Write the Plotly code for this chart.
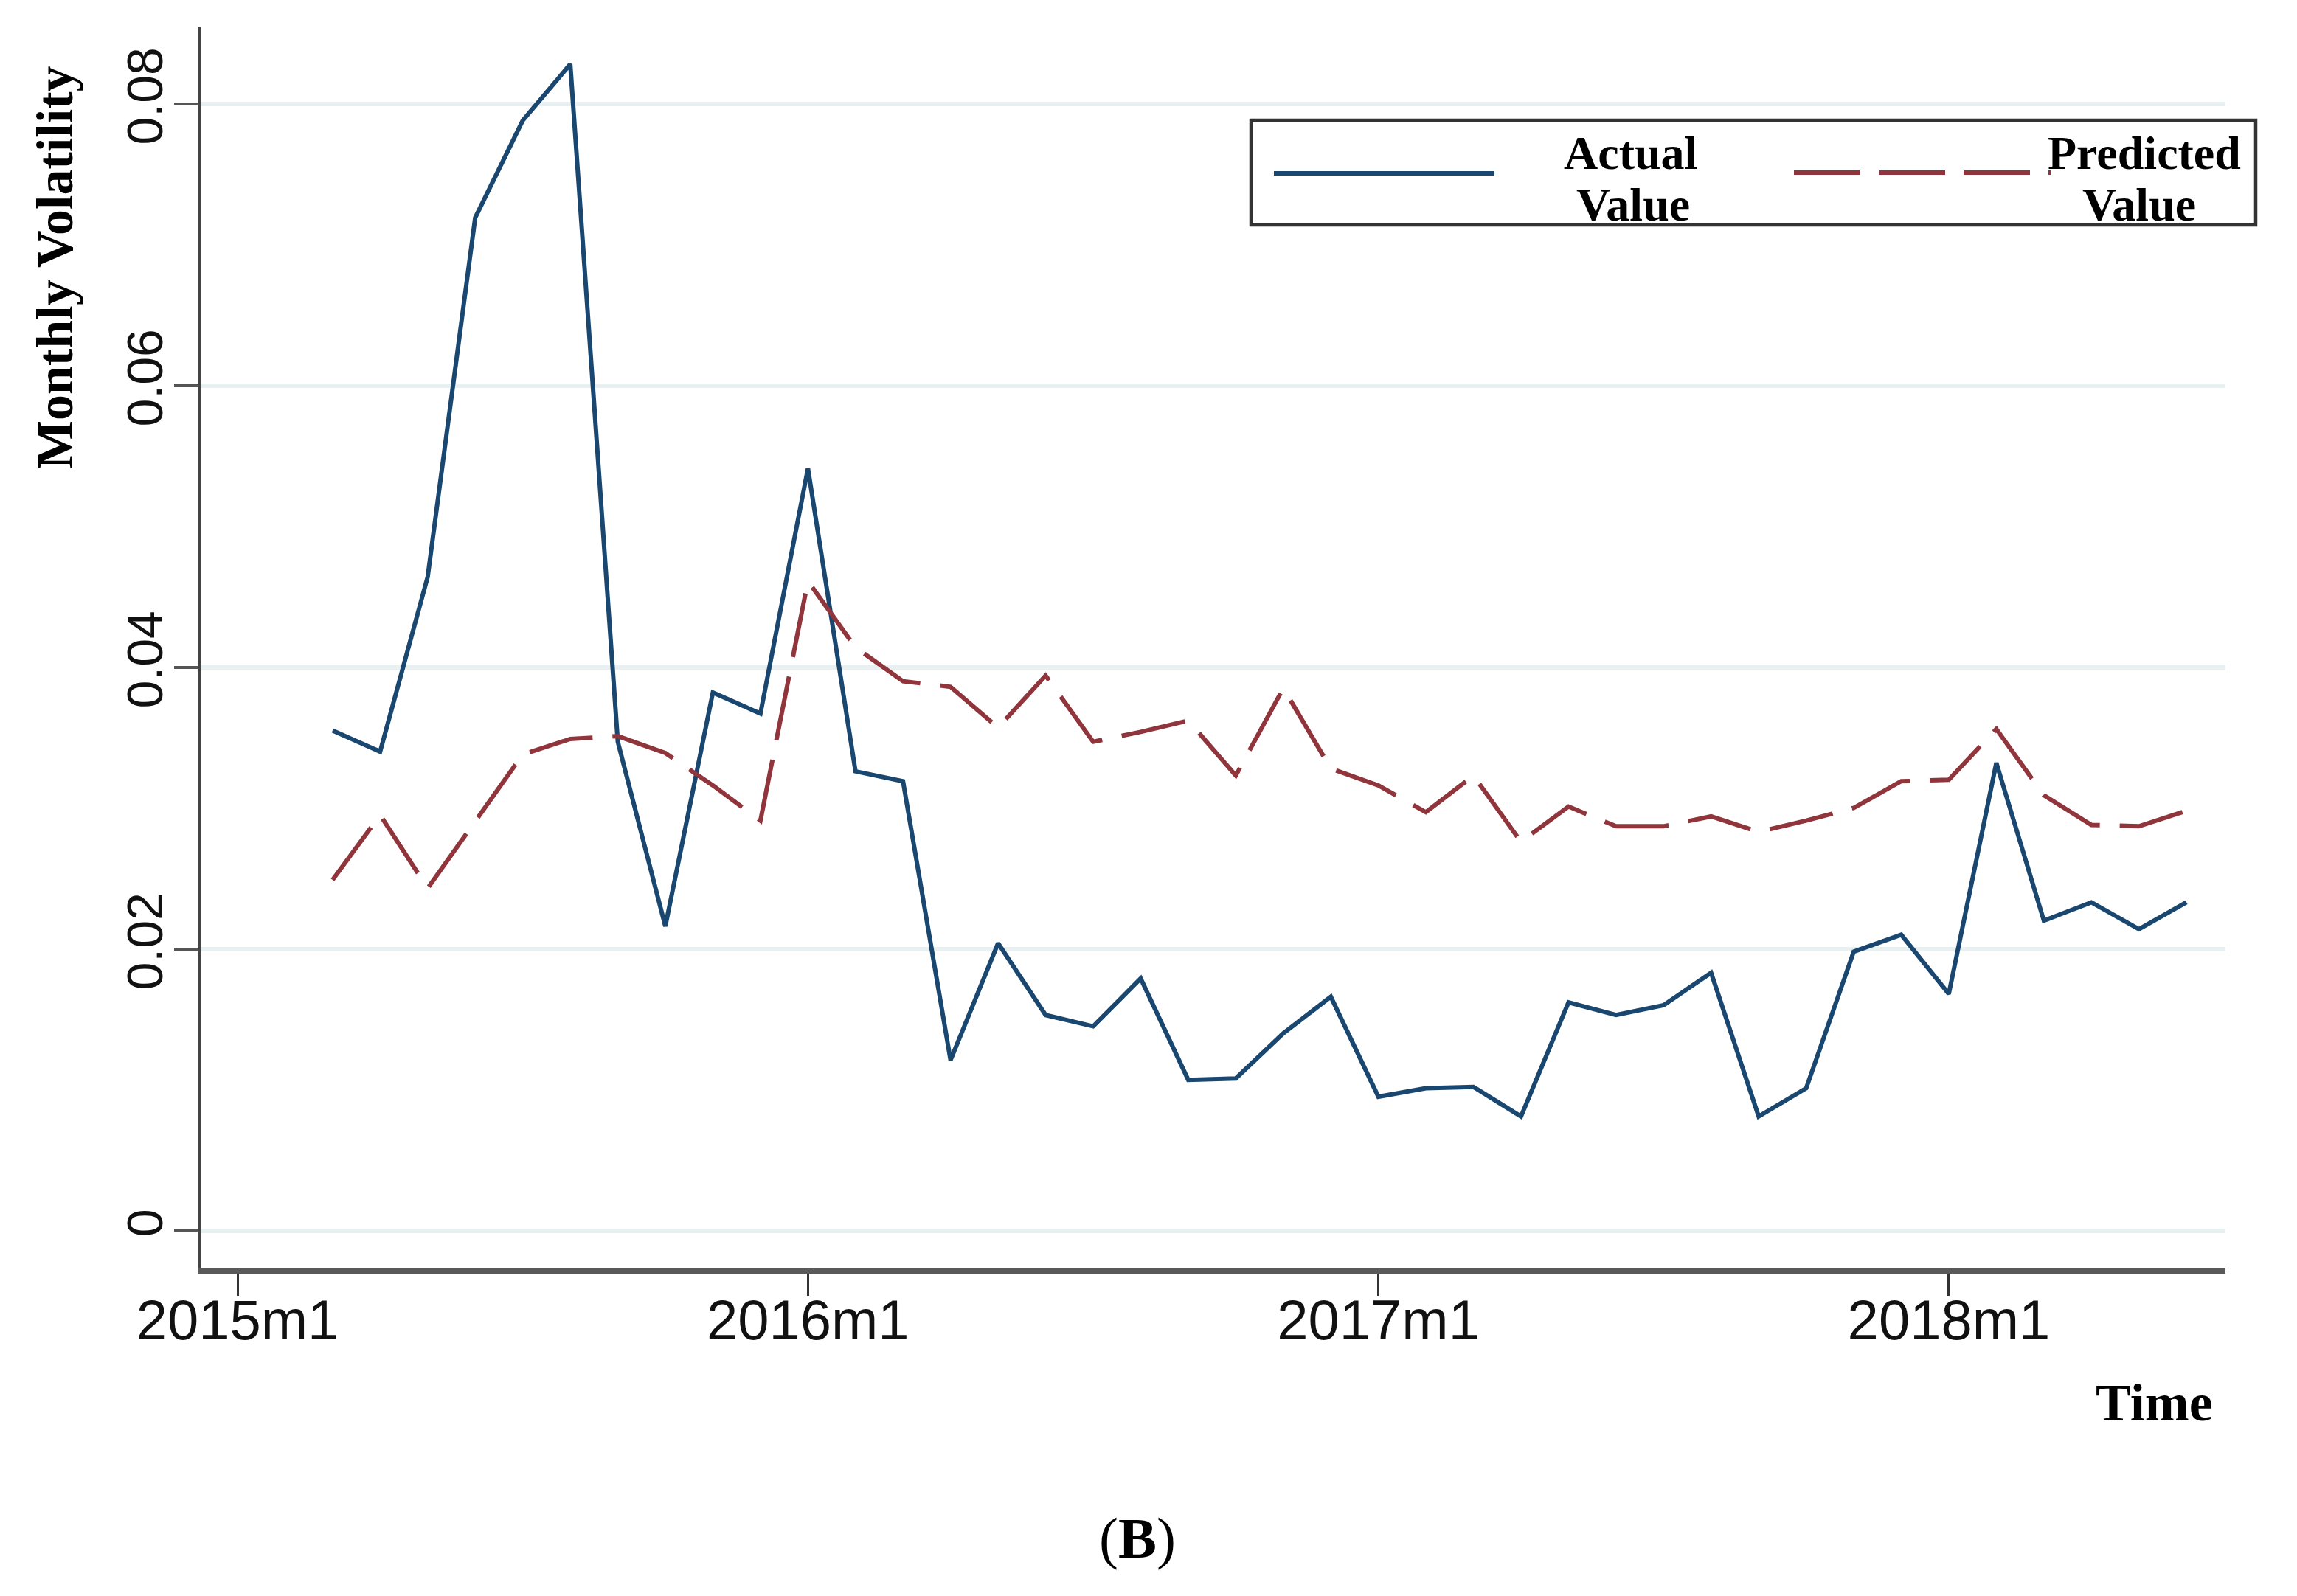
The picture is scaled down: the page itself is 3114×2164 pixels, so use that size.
import plotly.graph_objects as go

# ---------------- data ----------------
months = ["2015m3", "2015m4", "2015m5", "2015m6", "2015m7", "2015m8", "2015m9", "2015m10",
          "2015m11", "2015m12", "2016m1", "2016m2", "2016m3", "2016m4", "2016m5", "2016m6",
          "2016m7", "2016m8", "2016m9", "2016m10", "2016m11", "2016m12", "2017m1", "2017m2",
          "2017m3", "2017m4", "2017m5", "2017m6", "2017m7", "2017m8", "2017m9", "2017m10",
          "2017m11", "2017m12", "2018m1", "2018m2", "2018m3", "2018m4", "2018m5", "2018m6"]

actual = [0.0355, 0.0340, 0.0464, 0.0719, 0.0788, 0.0828, 0.0347, 0.0216, 0.0382, 0.0367,
          0.0541, 0.0326, 0.0319, 0.0121, 0.0204, 0.0153, 0.0145, 0.0179, 0.0107, 0.0108,
          0.0140, 0.0166, 0.0095, 0.0101, 0.0102, 0.0081, 0.0162, 0.0153, 0.0160, 0.0183,
          0.0081, 0.0101, 0.0198, 0.0210, 0.0168, 0.0332, 0.0220, 0.0233, 0.0214, 0.0233]

predicted = [0.0249, 0.0295, 0.0243, 0.0290, 0.0338, 0.0349, 0.0351, 0.0339, 0.0316, 0.0291,
             0.0461, 0.0414, 0.0390, 0.0386, 0.0357, 0.0394, 0.0347, 0.0354, 0.0362, 0.0323,
             0.0385, 0.0328, 0.0316, 0.0297, 0.0323, 0.0276, 0.0301, 0.0287, 0.0287, 0.0294,
             0.0283, 0.0291, 0.0300, 0.0319, 0.0320, 0.0356, 0.0309, 0.0288, 0.0287, 0.0298]

x_tick_labels = ["2015m1", "2016m1", "2017m1", "2018m1"]
y_tick_values = [0, 0.02, 0.04, 0.06, 0.08]
y_tick_labels = ["0", "0.02", "0.04", "0.06", "0.08"]


def month_index(label):
    y, m = label.split("m")
    return (int(y) - 2015) * 12 + int(m) - 1


x = [month_index(m) for m in months]
x_tick_vals = [month_index(t) for t in x_tick_labels]

NAVY = "#1A476F"
MAROON = "#90353B"

OFF = 8                      # page body margin
W, H = 3114 - 2 * OFF, 2164 - 2 * OFF
L, R, T, B = 272 - OFF, 3017 - OFF, 37 - OFF, 1719 - OFF   # plot area in figure pixels


def px(xp):
    return (xp - OFF - L) / (R - L)


def py(yp):
    return (B - (yp - OFF)) / (B - T)


fig = go.Figure()
fig.add_trace(go.Scatter(x=x, y=actual, mode="lines", name="Actual Value",
                         line=dict(color=NAVY, width=6), showlegend=False))
fig.add_trace(go.Scatter(x=x, y=predicted, mode="lines", name="Predicted Value",
                         line=dict(color=MAROON, width=6, dash="88px,27px"), showlegend=False))

serif = "Liberation Serif"
sans = "Liberation Sans"

fig.update_layout(
    width=W, height=H,
    margin=dict(l=L, r=W - R, t=T, b=H - B, pad=0),
    paper_bgcolor="white", plot_bgcolor="white",
    xaxis=dict(range=[-0.776, 41.82], tickmode="array", tickvals=x_tick_vals, ticktext=x_tick_labels,
               showgrid=False, zeroline=False, showline=True, linecolor="#5A5A5A", linewidth=8,
               ticks="outside", ticklen=30, tickwidth=3, tickcolor="#333333",
               ticklabelstandoff=-32,
               tickfont=dict(family=sans, size=76, color="#111111")),
    yaxis=dict(range=[-0.002644, 0.08542], tickmode="array", tickvals=y_tick_values,
               ticktext=y_tick_labels, tickangle=-90,
               showgrid=True, gridcolor="#E8F0F2", gridwidth=6, zeroline=False,
               showline=True, linecolor="#444444", linewidth=4,
               ticks="outside", ticklen=32, tickwidth=4, tickcolor="#555555",
               ticklabelstandoff=-11,
               tickfont=dict(family=sans, size=68, color="#111111")),
)

shapes = [
    dict(type="rect", xref="paper", yref="paper", x0=px(1696), x1=px(3058), y0=py(305), y1=py(163),
         line=dict(color="#333333", width=4.5), fillcolor="white", layer="above"),
    dict(type="line", xref="paper", yref="paper", x0=px(1727), x1=px(2025), y0=py(235), y1=py(235),
         line=dict(color=NAVY, width=6)),
    dict(type="line", xref="paper", yref="paper", x0=px(2432), x1=px(2780), y0=py(234), y1=py(234),
         line=dict(color=MAROON, width=6, dash="90px,25px")),
]
fig.update_layout(shapes=shapes)

ann = []


def add_text(text, xp, yp, size, xanchor="center", angle=0, family=serif):
    ann.append(dict(text=text, xref="paper", yref="paper", x=px(xp), y=py(yp), showarrow=False,
                    xanchor=xanchor, yanchor="middle", textangle=angle,
                    font=dict(family=family, size=size, color="black")))


add_text("<b>Actual</b>", 2210, 207, 64)
add_text("<b>Value</b>", 2214, 277, 64)
add_text("<b>Predicted</b>", 2907, 207, 64)
add_text("<b>Value</b>", 2900, 277, 64)
add_text("<b>Monthly Volatility</b>", 75, 363, 70, angle=-90)
add_text("<b>Time</b>", 3002, 1902, 72, xanchor="right")
add_text("(<b>B</b>)", 1542, 2085, 78)
fig.update_layout(annotations=ann)

fig.write_html("out.html")
